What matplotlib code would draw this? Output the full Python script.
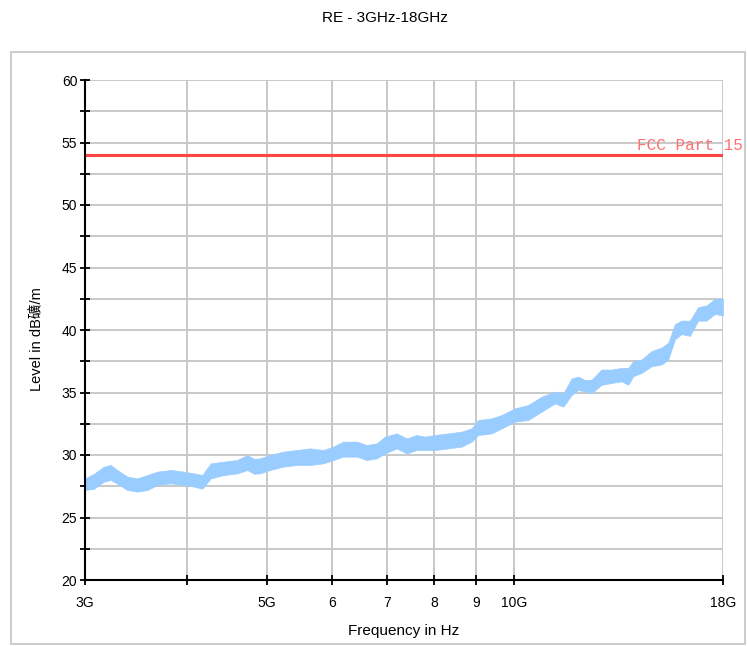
import matplotlib
matplotlib.use("Agg")
import matplotlib.pyplot as plt
from matplotlib.patches import Rectangle
from matplotlib.ticker import FixedLocator, NullFormatter

# ---- data ----
freq_ghz = [3.000, 3.077, 3.164, 3.224, 3.285, 3.378, 3.475, 3.574, 3.676, 3.816,
            3.961, 4.074, 4.170, 4.270, 4.432, 4.601, 4.732, 4.822, 4.904, 5.044,
            5.236, 5.436, 5.643, 5.858, 6.025, 6.196, 6.434, 6.617, 6.806, 6.966,
            7.199, 7.404, 7.615, 7.795, 8.017, 8.321, 8.640, 8.887, 9.053, 9.400,
            9.668, 10.036, 10.417, 10.817, 11.228, 11.493, 11.767, 11.987, 12.215, 12.447,
            12.801, 13.166, 13.541, 13.794, 13.989, 14.323, 14.731, 15.150, 15.434, 15.727,
            16.025, 16.403, 16.790, 17.190, 17.596, 18.000]
level_upper = [28.13, 28.50, 29.07, 29.20, 28.80, 28.27, 28.13, 28.40, 28.67, 28.80,
               28.67, 28.53, 28.40, 29.33, 29.47, 29.60, 30.00, 29.70, 29.73, 30.00,
               30.27, 30.40, 30.53, 30.40, 30.67, 31.07, 31.07, 30.80, 30.93, 31.47,
               31.73, 31.33, 31.60, 31.47, 31.60, 31.73, 31.87, 32.13, 32.80, 32.93,
               33.20, 33.73, 34.00, 34.67, 35.07, 34.93, 36.13, 36.27, 36.00, 36.03,
               36.84, 36.84, 36.97, 36.97, 37.51, 37.64, 38.32, 38.59, 38.99, 40.48,
               40.75, 40.75, 41.83, 41.96, 42.50, 42.50]
level_lower = [27.20, 27.30, 27.87, 28.00, 27.70, 27.20, 27.07, 27.20, 27.60, 27.73,
               27.60, 27.47, 27.30, 28.13, 28.40, 28.53, 28.80, 28.50, 28.53, 28.80,
               29.07, 29.20, 29.20, 29.33, 29.60, 29.87, 29.87, 29.60, 29.73, 30.13,
               30.53, 30.13, 30.40, 30.40, 30.40, 30.53, 30.67, 31.07, 31.60, 31.73,
               32.13, 32.67, 32.80, 33.47, 34.13, 33.87, 34.80, 35.20, 35.07, 34.95,
               35.62, 35.76, 35.89, 35.62, 36.30, 36.57, 37.10, 37.24, 37.64, 39.26,
               39.67, 39.53, 40.75, 40.75, 41.29, 41.15]
limit_freq = [3.0, 18.0]
limit_level = [54.0, 54.0]
limit_name = "FCC Part 15"

x_ticks = [3, 4, 5, 6, 7, 8, 9, 10, 18]
x_tick_labels = ["3G", "", "5G", "6", "7", "8", "9", "10G", "18G"]
y_major = [20, 25, 30, 35, 40, 45, 50, 55, 60]
y_minor = [22.5, 27.5, 32.5, 37.5, 42.5, 47.5, 52.5, 57.5]

plt.rcParams['font.family'] = ['Liberation Sans', 'Noto Sans CJK SC', 'DejaVu Sans']

fig = plt.figure(figsize=(7.47, 6.46), dpi=100)
# outer frame
fig.patches.append(Rectangle((11 / 747, 2 / 646), 734 / 747, 592 / 646,
                             transform=fig.transFigure, fill=False,
                             edgecolor='#c4c4c4', linewidth=1.2))

ax = fig.add_axes([85 / 747, 66 / 646, 638 / 747, 500 / 646])
ax.set_xscale('log')
ax.set_xlim(3, 18)
ax.set_ylim(20, 60)

ax.fill_between(freq_ghz, level_lower, level_upper, color='#99ccff',
                linewidth=0.5, edgecolor='#99ccff', zorder=3)
ax.plot(limit_freq, limit_level, color='#ff4444', linewidth=2.2, zorder=4)
ax.annotate(limit_name, xy=(1.0, 54.0), xycoords=('axes fraction', 'data'),
            xytext=(14, 1.5), textcoords='offset points', ha='right', va='bottom',
            family='Liberation Mono', fontsize=11.5, color='#ff7070',
            annotation_clip=False, zorder=5)

ax.xaxis.set_major_locator(FixedLocator(x_ticks))
ax.xaxis.set_minor_locator(FixedLocator([]))
ax.xaxis.set_minor_formatter(NullFormatter())
ax.set_xticklabels(x_tick_labels)
ax.yaxis.set_major_locator(FixedLocator(y_major))
ax.yaxis.set_minor_locator(FixedLocator(y_minor))

ax.grid(True, which='both', color='#c8c8c8', linewidth=1.4, zorder=1)
ax.set_axisbelow(True)
for s in ['top', 'right']:
    ax.spines[s].set_visible(False)
for s in ['left', 'bottom']:
    ax.spines[s].set_linewidth(1.5)
    ax.spines[s].set_zorder(6)

ax.tick_params(axis='both', which='both', direction='inout', length=7,
               width=1.3, color='black', labelsize=10)
ax.tick_params(axis='x', pad=8)
ax.tick_params(axis='y', pad=2)

ax.set_xlabel("Frequency in Hz", fontsize=11, labelpad=10)
ax.set_ylabel("Level in dB礦/m", fontsize=10.5)
ax.yaxis.set_label_coords(-0.063, 0.482)
fig.text(385 / 747, 1 - 18 / 646, "RE - 3GHz-18GHz", ha='center', va='center',
         fontsize=11)

fig.savefig("out.png", dpi=100)
